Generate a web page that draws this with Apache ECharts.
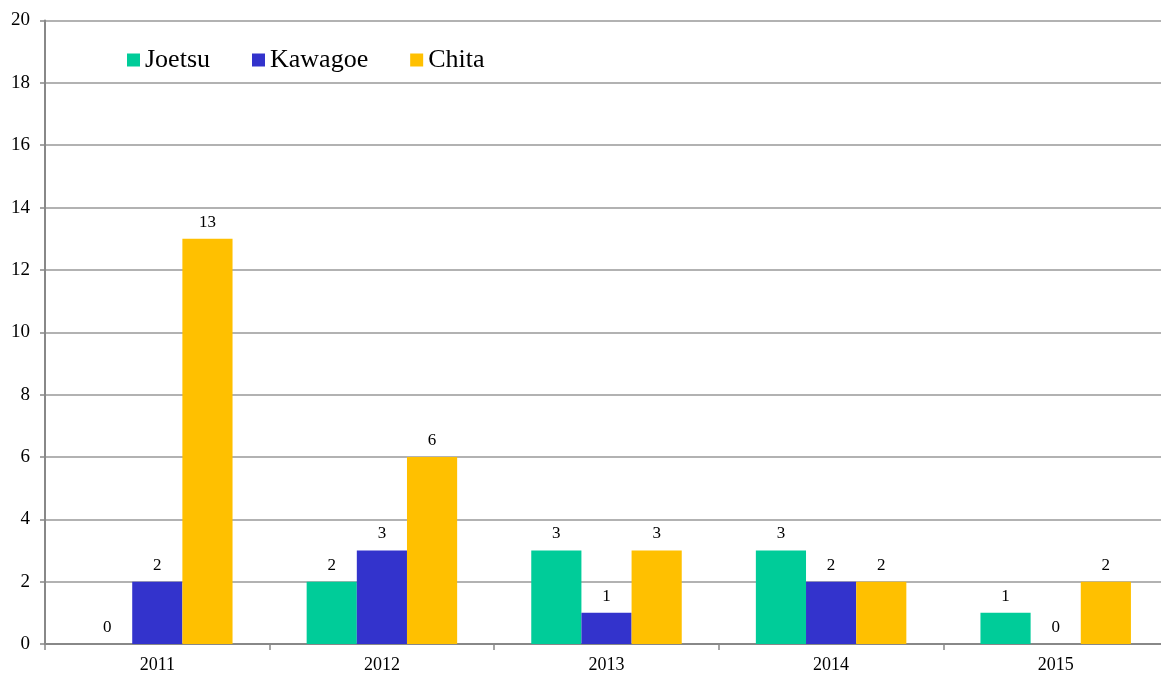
<!DOCTYPE html>
<html><head><meta charset="utf-8">
<script src="https://cdn.jsdelivr.net/npm/echarts@6/dist/echarts.min.js"></script>
<style>html,body{margin:0;padding:0;background:#fff;overflow:hidden}#c{width:1175px;height:675px}</style>
</head><body><div id="c"></div>
<script>
const categories = ['2011','2012','2013','2014','2015'];
const joetsu = [0,2,3,3,1];
const kawagoe = [2,3,1,2,0];
const chita = [13,6,3,2,2];
const yTicks = {min:0,max:20,interval:2};
const font = '"Liberation Serif","Times New Roman",serif';
const chart = echarts.init(document.getElementById('c'));
const lbl = {show:true,position:'top',distance:8,color:'#000',fontFamily:font,fontSize:17};
chart.setOption({
  animation:false,
  textStyle:{fontFamily:font},
  legend:{left:122,top:42,itemWidth:13,itemHeight:13,itemGap:42,icon:'rect',
    textStyle:{fontFamily:font,fontSize:26,color:'#000',padding:[0,0,0,0]},
    data:['Joetsu','Kawagoe','Chita']},
  grid:{left:45,right:7,top:20.5,bottom:31,containLabel:false},
  xAxis:{type:'category',data:categories,
    axisLine:{lineStyle:{color:'#888',width:2}},
    axisTick:{show:true,length:6,lineStyle:{color:'#888',width:1.5}},
    axisLabel:{fontFamily:font,fontSize:18,color:'#000',margin:12}},
  yAxis:{type:'value',min:yTicks.min,max:yTicks.max,interval:yTicks.interval,
    axisLine:{show:true,lineStyle:{color:'#888',width:2}},
    axisTick:{show:true,length:5,lineStyle:{color:'#888',width:1.5}},
    splitLine:{lineStyle:{color:'#999',width:1.5}},
    axisLabel:{fontFamily:font,fontSize:19,color:'#000',margin:15}},
  series:[
    {name:'Joetsu',type:'bar',data:joetsu,itemStyle:{color:'#00CC99'},label:lbl,barGap:'0%',barCategoryGap:'33%'},
    {name:'Kawagoe',type:'bar',data:kawagoe,itemStyle:{color:'#3333CC'},label:lbl,barGap:'0%',barCategoryGap:'33%'},
    {name:'Chita',type:'bar',data:chita,itemStyle:{color:'#FFC000'},label:lbl,barGap:'0%',barCategoryGap:'33%'}
  ]
});
</script></body></html>
